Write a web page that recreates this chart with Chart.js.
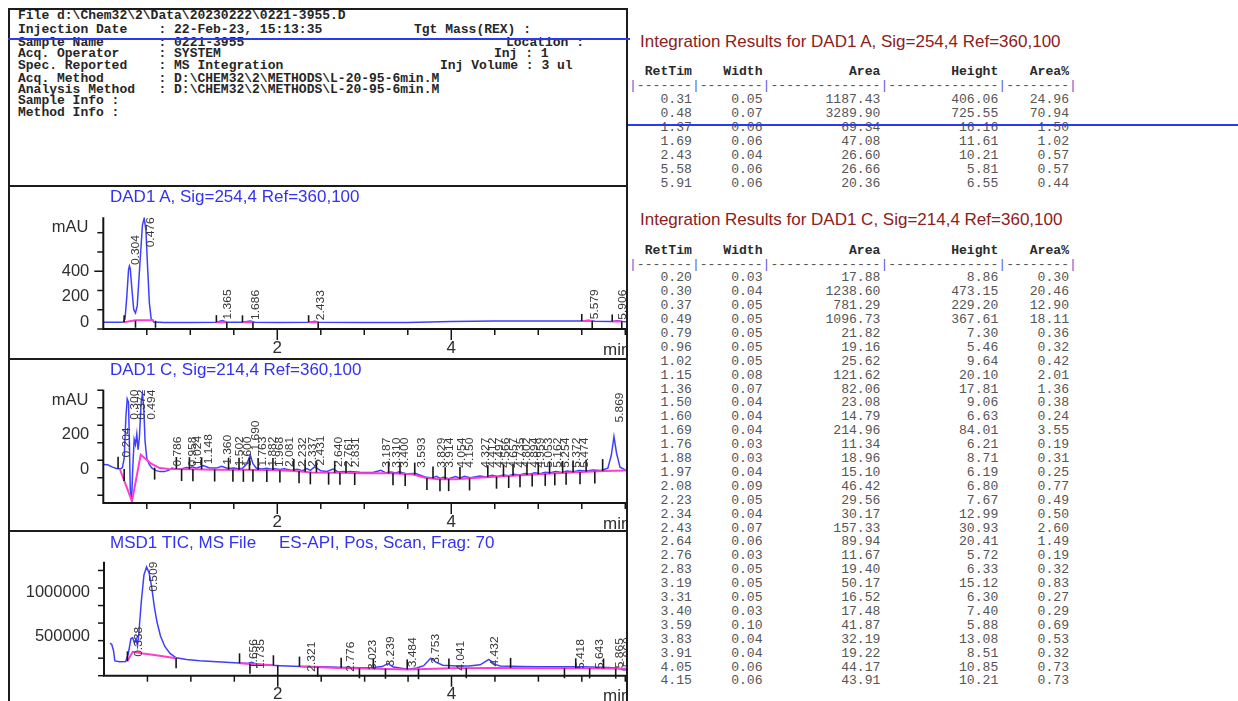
<!DOCTYPE html>
<html>
<head>
<meta charset="utf-8">
<script src="https://cdn.jsdelivr.net/npm/chart.js@4.4.1/dist/chart.umd.min.js"></script>
<style>
html,body{margin:0;padding:0;background:#fff;width:1238px;height:701px;overflow:hidden;}
#page{position:relative;width:1238px;height:701px;background:#fff;}
.abs{position:absolute;white-space:pre;}
.mono{font-family:"Liberation Mono","Courier New",monospace;line-height:14px;}
.hdr{font-size:13px;font-weight:bold;color:#262626;}
.tbl{font-size:13.1px;color:#555;}
.tblh{font-weight:bold;color:#2a2a2a;}
.pipe{color:#5a5ad6;}
.ctitle{font-family:"Liberation Sans",Arial,sans-serif;font-size:17px;line-height:20px;color:#3232f0;}
.rtitle{font-family:"Liberation Sans",Arial,sans-serif;font-size:17px;line-height:20px;color:#8c2020;}
.line{position:absolute;background:#1c1c1c;}
canvas{position:absolute;}
</style>
</head>
<body>
<div id="page">
  <canvas id="cA" width="617" height="171" style="left:10px;top:187px"></canvas>
  <canvas id="cC" width="617" height="170" style="left:10px;top:360px"></canvas>
  <canvas id="cT" width="617" height="169" style="left:10px;top:532px"></canvas>
</div>
<script>
// ================= DATA =================
// --- header ---
const headerLeft = [
  "File d:\\Chem32\\2\\Data\\20230222\\0221-3955.D",
  "Injection Date    : 22-Feb-23, 15:13:35",
  "Sample Name       : 0221-3955",
  "Acq. Operator     : SYSTEM",
  "Spec. Reported    : MS Integration",
  "Acq. Method       : D:\\CHEM32\\2\\METHODS\\L-20-95-6min.M",
  "Analysis Method   : D:\\CHEM32\\2\\METHODS\\L-20-95-6min.M",
  "Sample Info :",
  "Method Info :"
];
const headerRight = ["", "Tgt Mass(REX) :", "Location :", "Inj : 1", "Inj Volume : 3 ul", "", "", "", ""];

// --- table DAD1 A ---
const tableATitle = "Integration Results for DAD1 A, Sig=254,4 Ref=360,100";
const aRet    = [0.31, 0.48, 1.37, 1.69, 2.43, 5.58, 5.91];
const aWidth  = [0.05, 0.07, 0.06, 0.06, 0.04, 0.06, 0.06];
const aArea   = [1187.43, 3289.90, 69.34, 47.08, 26.60, 26.66, 20.36];
const aHeight = [406.06, 725.55, 16.16, 11.61, 10.21, 5.81, 6.55];
const aPct    = [24.96, 70.94, 1.50, 1.02, 0.57, 0.57, 0.44];

// --- table DAD1 C ---
const tableCTitle = "Integration Results for DAD1 C, Sig=214,4 Ref=360,100";
const cRet    = [0.20,0.30,0.37,0.49,0.79,0.96,1.02,1.15,1.36,1.50,1.60,1.69,1.76,1.88,1.97,2.08,2.23,2.34,2.43,2.64,2.76,2.83,3.19,3.31,3.40,3.59,3.83,3.91,4.05,4.15];
const cWidth  = [0.03,0.04,0.05,0.05,0.05,0.05,0.05,0.08,0.07,0.04,0.04,0.04,0.03,0.03,0.04,0.09,0.05,0.04,0.07,0.06,0.03,0.05,0.05,0.05,0.03,0.10,0.04,0.04,0.06,0.06];
const cArea   = [17.88,1238.60,781.29,1096.73,21.82,19.16,25.62,121.62,82.06,23.08,14.79,214.96,11.34,18.96,15.10,46.42,29.56,30.17,157.33,89.94,11.67,19.40,50.17,16.52,17.48,41.87,32.19,19.22,44.17,43.91];
const cHeight = [8.86,473.15,229.20,367.61,7.30,5.46,9.64,20.10,17.81,9.06,6.63,84.01,6.21,8.71,6.19,6.80,7.67,12.99,30.93,20.41,5.72,6.33,15.12,6.30,7.40,5.88,13.08,8.51,10.85,10.21];
const cPct    = [0.30,20.46,12.90,18.11,0.36,0.32,0.42,2.01,1.36,0.38,0.24,3.55,0.19,0.31,0.25,0.77,0.49,0.50,2.60,1.49,0.19,0.32,0.83,0.27,0.29,0.69,0.53,0.32,0.73,0.73];

// --- chart axes ---
const xTickLabels = [2, 4];
const dadAYLabels = [0, 200, 400];
const dadCYLabels = [0, 200];
const ticYLabels  = [500000, 1000000];

// --- DAD1 A chromatogram [min, mAU] ---
const dadATrace = [[0,2],[0.1,2],[0.2,3],[0.23,5],[0.25,30],[0.27,200],[0.29,410],[0.30,440],[0.31,420],[0.33,250],[0.35,100],[0.37,75],[0.39,130],[0.42,450],[0.45,760],[0.47,812],[0.49,720],[0.51,420],[0.53,150],[0.55,30],[0.58,5],[0.7,1],[1.0,0],[1.3,2],[1.37,16],[1.42,3],[1.6,2],[1.69,12],[1.74,2],[2.0,0],[2.38,2],[2.43,11],[2.48,2],[3.0,0],[3.5,1],[4.0,8],[4.5,12],[5.0,13],[5.5,12],[5.58,18],[5.65,11],[5.85,9],[5.91,15],[5.97,8],[6.02,6]];
const dadABaseline = [[0.24,2],[0.37,18],[0.58,18],null,[1.30,3],[1.42,3],null,[1.60,2],[1.72,2],null,[2.36,3],[2.47,3],null,[5.50,12],[5.62,12],null,[5.85,9],[5.96,9]];
const dadAPeaks = [[0.304,440],[0.476,812],[1.365,17],[1.686,13],[2.433,11],[5.579,18],[5.906,15]];
const dadAMarks = [[0.24,2,1],[0.37,14,-1],[0.60,14,-1],[1.30,3,1],[1.42,3,-1],[1.60,2,1],[1.72,2,-1],[2.36,3,1],[2.47,3,-1],[5.50,12,1],[5.62,12,-1],[5.85,9,1],[5.96,9,-1]];

// --- DAD1 C chromatogram [min, mAU] ---
const dadCTrace = [[0,25],[0.05,24],[0.1,12],[0.15,3],[0.2,2],[0.22,8],[0.24,60],[0.26,300],[0.275,400],[0.29,380],[0.30,150],[0.31,-120],[0.325,-175],[0.34,20],[0.355,170],[0.37,140],[0.385,200],[0.40,110],[0.415,180],[0.435,380],[0.45,430],[0.465,350],[0.48,160],[0.50,60],[0.53,25],[0.56,5],[0.60,-8],[0.65,-15],[0.70,-15],[0.75,-8],[0.79,5],[0.83,0],[0.90,2],[0.96,8],[0.99,4],[1.02,12],[1.07,5],[1.15,20],[1.22,6],[1.30,5],[1.36,15],[1.43,3],[1.50,6],[1.55,2],[1.60,4],[1.65,30],[1.69,80],[1.72,30],[1.76,4],[1.82,0],[1.88,4],[1.93,-1],[1.97,2],[2.03,-3],[2.08,1],[2.16,-7],[2.23,-2],[2.29,-10],[2.34,2],[2.38,-8],[2.43,12],[2.50,-10],[2.57,-14],[2.64,0],[2.70,-17],[2.76,-14],[2.80,-17],[2.83,-14],[2.95,-19],[3.10,-20],[3.19,-8],[3.25,-22],[3.31,-17],[3.36,-23],[3.40,-16],[3.48,-27],[3.59,-26],[3.70,-46],[3.78,-52],[3.83,-42],[3.87,-54],[3.91,-47],[3.97,-55],[4.05,-43],[4.10,-53],[4.15,-42],[4.22,-50],[4.33,-40],[4.40,-46],[4.47,-36],[4.53,-43],[4.60,-35],[4.66,-38],[4.72,-30],[4.78,-34],[4.85,-26],[4.90,-30],[4.96,-22],[5.02,-27],[5.08,-18],[5.14,-22],[5.20,-14],[5.27,-20],[5.33,-12],[5.40,-16],[5.47,-8],[5.55,-12],[5.63,-6],[5.72,-8],[5.80,5],[5.84,80],[5.87,185],[5.90,90],[5.94,10],[6.0,-5],[6.02,-8]];
const dadCBaseline = [[0.19,0],[0.33,-185],[0.43,82],[0.55,30],[0.65,5],[0.75,0],[1.00,-2],[1.30,-4],[1.60,-5],[1.90,-6],[2.20,-12],[2.40,-20],[2.70,-22],[3.00,-24],[3.30,-25],[3.55,-30],[3.70,-50],[3.85,-58],[4.05,-58],[4.30,-50],[4.60,-42],[4.90,-33],[5.20,-25],[5.50,-17],[5.75,-12],[6.02,-8]];
const dadCPeaks = [[0.204,60],[0.300,400],[0.372,400],[0.494,400],[0.786,8],[0.958,8],[1.024,12],[1.148,22],[1.360,18],[1.502,10],[1.600,8],[1.690,100],[1.763,8],[1.882,8],[1.968,6],[2.081,6],[2.232,4],[2.337,6],[2.431,14],[2.640,6],[2.761,4],[2.831,4],[3.187,2],[3.310,2],[3.400,2],[3.593,2],[3.829,2],[3.914,2],[4.054,2],[4.150,2],[4.327,2],[4.412,2],[4.497,2],[4.566,2],[4.657,2],[4.735,2],[4.802,2],[4.894,2],[4.959,2],[5.053,2],[5.162,2],[5.254,2],[5.372,2],[5.474,2],[5.869,260]];
const dadCMarks = [[0.17,2,1],[0.24,0,-1],[0.59,8,-1],[0.84,0,1],[0.90,0,-1],[0.99,-1,1],[1.03,-1,-1],[1.13,-2,1],[1.28,-3,-1],[1.44,-4,1],[1.49,-4,-1],[1.56,-5,1],[1.61,-5,-1],[1.68,-5,1],[1.72,-5,-1],[1.78,-6,1],[1.88,-6,-1],[1.95,-6,1],[2.03,-8,-1],[2.19,-11,1],[2.25,-13,-1],[2.32,-16,1],[2.38,-19,-1],[2.45,-20,1],[2.59,-21,-1],[2.66,-22,1],[2.72,-22,-1],[2.79,-23,1],[2.89,-23,-1],[3.28,-25,1],[3.33,-25,-1],[3.41,-27,1],[3.47,-28,-1],[3.58,-32,1],[3.72,-52,-1],[3.79,-55,1],[3.87,-58,-1],[3.93,-58,1],[3.97,-58,-1],[4.10,-57,1],[4.21,-54,-1],[4.42,-47,1],[4.52,-44,-1],[4.60,-42,1],[4.66,-40,-1],[4.71,-38,1],[4.79,-36,-1],[4.87,-34,1],[4.93,-32,-1],[5.00,-30,1],[5.08,-28,-1],[5.13,-26,1],[5.19,-25,-1],[5.28,-23,1],[5.32,-22,-1],[5.40,-20,1],[5.48,-18,-1],[5.55,-16,1],[5.65,-14,-1],[5.74,-12,1]];

// --- MSD1 TIC [min, counts] ---
const ticTrace = [[0.07,420000],[0.09,400000],[0.11,330000],[0.125,215000],[0.18,205000],[0.25,208000],[0.28,300000],[0.31,470000],[0.33,480000],[0.35,420000],[0.37,470000],[0.385,390000],[0.40,520000],[0.43,900000],[0.46,1200000],[0.49,1290000],[0.52,1220000],[0.55,1050000],[0.58,830000],[0.61,660000],[0.65,500000],[0.70,380000],[0.76,300000],[0.83,250000],[0.95,232000],[1.1,218000],[1.3,205000],[1.5,195000],[1.65,185000],[1.7,200000],[1.75,180000],[1.87,168000],[2.03,160000],[2.26,150000],[2.35,152000],[2.5,147000],[2.8,140000],[2.95,138000],[3.1,140000],[3.2,150000],[3.27,185000],[3.33,145000],[3.5,120000],[3.6,135000],[3.68,160000],[3.76,245000],[3.82,200000],[3.9,165000],[4.06,156000],[4.2,158000],[4.33,170000],[4.43,233000],[4.5,175000],[4.56,156000],[4.8,150000],[5.0,148000],[5.25,149000],[5.5,148000],[5.8,140000],[5.9,135000],[5.98,110000],[6.02,115000]];
const ticBaseline = [[0.27,215000],[0.33,320000],[0.45,300000],[0.6,280000],[0.83,245000],null,[1.56,187000],[1.95,165000],null,[2.26,150000],[2.7,135000],[3.0,128000],[3.5,118000],[4.0,130000],[4.5,135000],[5.0,132000],[5.5,130000],[6.02,125000]];
const ticPeaks = [[0.338,250000],[0.509,1290000],[1.656,110000],[1.735,110000],[2.321,80000],[2.776,80000],[3.023,100000],[3.239,140000],[3.484,130000],[3.753,170000],[4.041,90000],[4.432,140000],[5.418,110000],[5.643,110000],[5.865,120000],[5.960,130000]];
const ticMarks = [[0.27,210000,1],[0.83,245000,-1],[1.56,187000,1],[1.68,183000,-1],[1.95,165000,1],[2.00,163000,-1],[2.25,150000,1],[2.46,148000,-1],[2.73,138000,1],[2.94,130000,-1],[3.10,128000,1],[3.24,125000,-1],[3.49,118000,1],[3.62,120000,-1],[3.97,128000,1],[4.17,132000,-1],[4.68,135000,1],[5.30,131000,-1],[5.43,130000,1],[5.59,130000,-1],[5.75,128000,1],[5.89,127000,-1]];

// ================= PAGE TEXT =================
const page = document.getElementById('page');
function addDiv(cls, text, left, top, html) {
  const d = document.createElement('div');
  d.className = 'abs ' + cls;
  if (html) d.innerHTML = text; else d.textContent = text;
  d.style.left = left + 'px'; d.style.top = top + 'px';
  page.appendChild(d); return d;
}
function addLine(l, t, w, h, color) {
  const d = document.createElement('div');
  d.className = 'line';
  d.style.cssText = `left:${l}px;top:${t}px;width:${w}px;height:${h}px;` + (color ? `background:${color};` : '');
  page.appendChild(d);
}
// frame
addLine(8, 8, 620, 2); addLine(8, 8, 2, 693); addLine(626, 8, 2, 693);
addLine(8, 185, 620, 2); addLine(8, 358, 620, 2); addLine(8, 530, 620, 2);

// header text
const hdrY = [16, 30, 42.5, 53.5, 65.5, 78.5, 90, 101, 113];
const hdrRightX = [0, 414, 506, 494, 440, 0, 0, 0, 0];
headerLeft.forEach((s, i) => addDiv('mono hdr', s, 18, hdrY[i] - 7));
headerRight.forEach((s, i) => { if (s) addDiv('mono hdr', s, hdrRightX[i], hdrY[i] - 7); });

// chart titles
addDiv('ctitle', 'DAD1 A, Sig=254,4 Ref=360,100', 110, 187);
addDiv('ctitle', 'DAD1 C, Sig=214,4 Ref=360,100', 110, 360);
addDiv('ctitle', 'MSD1 TIC, MS File', 110, 533);
addDiv('ctitle', 'ES-API, Pos, Scan, Frag: 70', 279, 533);

// tables
function fmtRow(a, b, c, d, e) {
  return String(a).padStart(8) + String(b).padStart(9) + String(c).padStart(15) + String(d).padStart(15) + String(e).padStart(9);
}
const dashHtml = '<span class="pipe">|</span>-------<span class="pipe">|</span>--------<span class="pipe">|</span>--------------<span class="pipe">|</span>--------------<span class="pipe">|</span>--------<span class="pipe">|</span>';
function buildTable(title, titleY, headY, rowY0, rowStep, rt, w, ar, h, p) {
  addDiv('rtitle', title, 640, titleY - 10);
  addDiv('mono tbl tblh', fmtRow('RetTim', 'Width', 'Area', 'Height', 'Area%'), 629, headY - 7);
  addDiv('mono tbl', dashHtml, 629, headY + 14 - 7, true);
  rt.forEach((v, i) => {
    addDiv('mono tbl', fmtRow(v.toFixed(2), w[i].toFixed(2), ar[i].toFixed(2), h[i].toFixed(2), p[i].toFixed(2)), 629, rowY0 + i * rowStep - 7);
  });
}
buildTable(tableATitle, 42, 72, 100, 14.05, aRet, aWidth, aArea, aHeight, aPct);
buildTable(tableCTitle, 220, 251, 278.3, 13.9, cRet, cWidth, cArea, cHeight, cPct);

// blue annotation lines
addLine(8, 38, 622, 2, '#2b3af0');
addLine(628, 124, 610, 2, '#2b3af0');

// ================= CHARTS =================
const CFG = {
  cA: {peaks: dadAPeaks, marks: dadAMarks, markLen: 7, yLabels: dadAYLabels, yMajor: 200, unit: 'mAU'},
  cC: {peaks: dadCPeaks, marks: dadCMarks, markLen: 12, yLabels: dadCYLabels, yMajor: 200, unit: 'mAU'},
  cT: {peaks: ticPeaks, marks: ticMarks, markLen: 10, yLabels: ticYLabels, yMajor: 500000, unit: ''}
};
const FONT = '"Liberation Sans", Arial, sans-serif';
const isMult = (v, s) => Math.abs(v / s - Math.round(v / s)) < 1e-6;

const agilentPlugin = {
  id: 'agilentPlugin',
  afterDatasetsDraw(chart) {
    const o = CFG[chart.canvas.id];
    const {ctx, chartArea: a} = chart;
    const x = chart.scales.x, y = chart.scales.y;
    ctx.save();
    ctx.strokeStyle = '#161616'; ctx.lineWidth = 1.6;
    o.marks.forEach(m => {
      const px = x.getPixelForValue(m[0]);
      const py = y.getPixelForValue(m[1]);
      ctx.beginPath(); ctx.moveTo(px, py); ctx.lineTo(px, py - m[2] * o.markLen); ctx.stroke();
    });
    ctx.font = '12px ' + FONT;
    ctx.fillStyle = '#383838'; ctx.textAlign = 'left'; ctx.textBaseline = 'middle';
    o.peaks.forEach(p => {
      const txt = p[0].toFixed(3);
      const len = ctx.measureText(txt).width;
      const px = x.getPixelForValue(p[0]) + 6;
      let py = y.getPixelForValue(p[1]) - 1;
      if (py - len < a.top) py = a.top + len;
      ctx.save(); ctx.translate(px, py); ctx.rotate(-Math.PI / 2); ctx.scale(1, 0.9);
      ctx.fillText(txt, 0, 0); ctx.restore();
    });
    ctx.restore();
  },
  afterDraw(chart) {
    const o = CFG[chart.canvas.id];
    const {ctx, chartArea: a} = chart;
    const x = chart.scales.x, y = chart.scales.y;
    ctx.save();
    ctx.strokeStyle = '#151515'; ctx.lineWidth = 2;
    ctx.beginPath(); ctx.moveTo(a.left, a.top); ctx.lineTo(a.left, a.bottom); ctx.lineTo(chart.width, a.bottom); ctx.stroke();
    ctx.lineWidth = 1.5;
    y.ticks.forEach(t => {
      const py = y.getPixelForValue(t.value);
      const len = isMult(t.value, o.yMajor) ? 9 : 6;
      ctx.beginPath(); ctx.moveTo(a.left, py); ctx.lineTo(a.left - len, py); ctx.stroke();
    });
    x.ticks.forEach(t => {
      if (t.value <= 0) return;
      const px = x.getPixelForValue(t.value);
      const len = xTickLabels.includes(t.value) ? 11 : 6;
      ctx.beginPath(); ctx.moveTo(px, a.bottom); ctx.lineTo(px, a.bottom + len); ctx.stroke();
    });
    ctx.fillStyle = '#2e2e2e';
    ctx.font = '16.5px ' + FONT;
    ctx.textAlign = 'right'; ctx.textBaseline = 'middle';
    o.yLabels.forEach(v => ctx.fillText(String(v), a.left - 14, y.getPixelForValue(v)));
    if (o.unit) ctx.fillText(o.unit, a.left - 15, a.top + 10.5);
    ctx.font = '17px ' + FONT;
    ctx.textAlign = 'center';
    xTickLabels.forEach(v => ctx.fillText(String(v), x.getPixelForValue(v), a.bottom + 19));
    ctx.textAlign = 'left';
    ctx.fillText('min', chart.width - 24, a.bottom + 21);
    ctx.restore();
  }
};

function toPts(arr) {
  let lastX = 0;
  return arr.map(p => { if (p) { lastX = p[0]; return {x: p[0], y: p[1]}; } return {x: lastX, y: null}; });
}

function makeChart(id, trace, baseline, yMin, yMax, yStep, pad) {
  return new Chart(document.getElementById(id), {
    type: 'line',
    data: {
      datasets: [
        {data: toPts(baseline), borderColor: '#ff3ccc', borderWidth: 2, pointRadius: 0, tension: 0, spanGaps: false},
        {data: toPts(trace), borderColor: 'rgba(36,36,250,0.88)', borderWidth: 1.5, pointRadius: 0, tension: 0}
      ]
    },
    options: {
      responsive: false, animation: false, events: [],
      layout: {autoPadding: false, padding: pad},
      plugins: {legend: {display: false}, tooltip: {enabled: false}, title: {display: false}},
      scales: {
        x: {type: 'linear', display: false, min: 0, max: 6.02, ticks: {stepSize: 0.5, includeBounds: false, maxTicksLimit: 100}},
        y: {type: 'linear', display: false, min: yMin, max: yMax, ticks: {stepSize: yStep, includeBounds: false, maxTicksLimit: 100}}
      }
    },
    plugins: [agilentPlugin]
  });
}

makeChart('cA', dadATrace, dadABaseline, -50, 820, 50, {left: 93.3, top: 30.3, right: 0, bottom: 29});
makeChart('cC', dadCTrace, dadCBaseline, -194.3, 453, 50, {left: 93.3, top: 29.7, right: 0, bottom: 27});
makeChart('cT', ticTrace, ticBaseline, 45800, 1350000, 100000, {left: 94, top: 29.7, right: 0, bottom: 25.3});
</script>
</body>
</html>
